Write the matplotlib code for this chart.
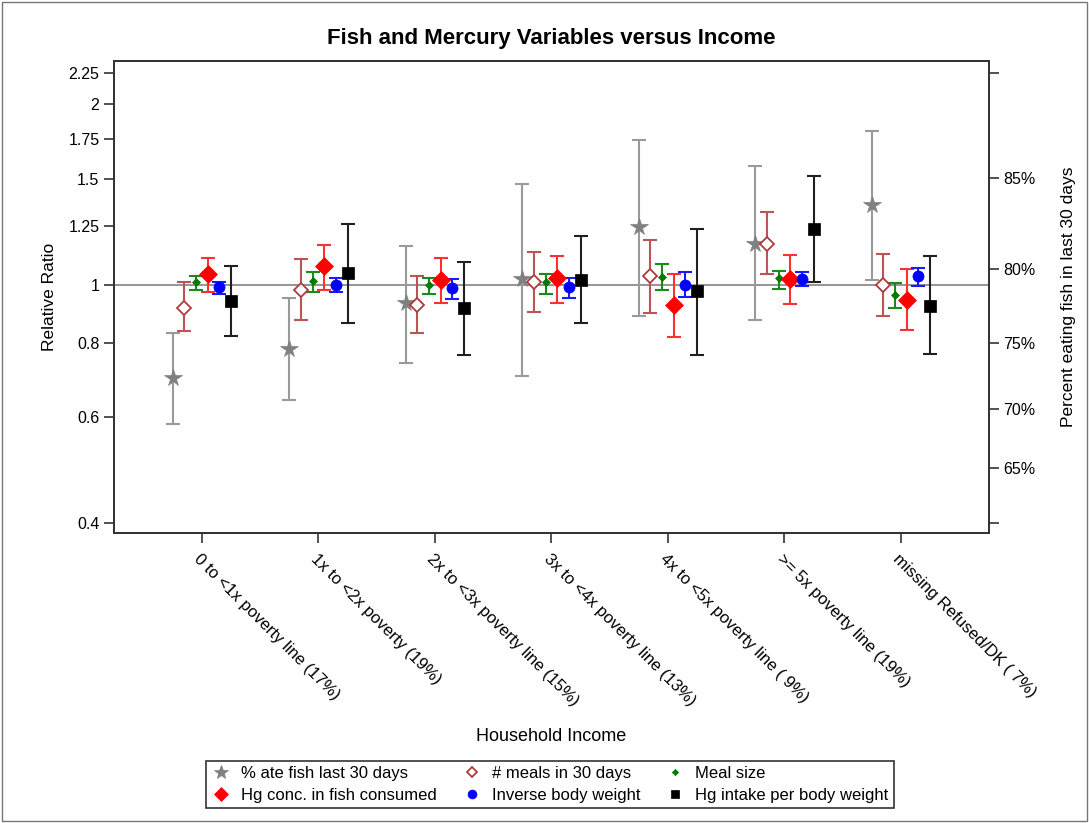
import numpy as np
import matplotlib
matplotlib.use("Agg")
import matplotlib.pyplot as plt
from matplotlib.patches import Rectangle

plt.rcParams['font.family'] = ['Liberation Sans', 'DejaVu Sans']

# Income groups (x axis)
groups = ["0 to <1x poverty line (17%)", "1x to <2x poverty (19%)",
          "2x to <3x poverty line (15%)", "3x to <4x poverty line (13%)",
          "4x to <5x poverty line ( 9%)", ">= 5x poverty line (19%)",
          "missing Refused/DK ( 7%)"]

# Relative ratios with lower / upper limits
ate_fish = [0.697, 0.782, 0.930, 1.023, 1.247, 1.170, 1.359]
ate_fish_lo = [0.585, 0.641, 0.740, 0.704, 0.887, 0.872, 1.017]
ate_fish_hi = [0.829, 0.950, 1.158, 1.473, 1.744, 1.575, 1.806]

meals = [0.915, 0.978, 0.926, 1.010, 1.034, 1.170, 1.000]
meals_lo = [0.836, 0.872, 0.831, 0.900, 0.897, 1.040, 0.885]
meals_hi = [1.010, 1.101, 1.032, 1.133, 1.185, 1.321, 1.126]

meal_size = [1.008, 1.014, 1.000, 1.008, 1.030, 1.026, 0.960]
meal_size_lo = [0.978, 0.972, 0.963, 0.966, 0.978, 0.983, 0.912]
meal_size_hi = [1.034, 1.050, 1.026, 1.043, 1.084, 1.055, 1.004]

hg_conc = [1.042, 1.073, 1.019, 1.026, 0.924, 1.023, 0.944]
hg_conc_lo = [0.972, 0.978, 0.932, 0.932, 0.816, 0.927, 0.839]
hg_conc_hi = [1.109, 1.166, 1.109, 1.115, 1.043, 1.122, 1.060]

inv_bw = [0.989, 0.997, 0.985, 0.989, 1.000, 1.023, 1.034]
inv_bw_lo = [0.963, 0.972, 0.946, 0.951, 0.954, 0.995, 0.996]
inv_bw_hi = [1.008, 1.027, 1.021, 1.027, 1.050, 1.050, 1.067]

hg_intake = [0.940, 1.046, 0.915, 1.017, 0.975, 1.240, 0.920]
hg_intake_lo = [0.820, 0.861, 0.764, 0.863, 0.764, 1.010, 0.765]
hg_intake_hi = [1.073, 1.264, 1.089, 1.204, 1.236, 1.515, 1.116]

# left axis ticks and right axis (percent eating fish) ticks
ratio_ticks = [0.4, 0.6, 0.8, 1, 1.25, 1.5, 1.75, 2, 2.25]
ratio_labels = ["0.4", "0.6", "0.8", "1", "1.25", "1.5", "1.75", "2", "2.25"]
pct_ticks = [0.65, 0.70, 0.75, 0.80, 0.85]
base_pct = 0.79  # percent eating fish that corresponds to ratio 1

series = [
    # label, values, lo, hi, marker, size, face, edge, bar colour
    ("% ate fish last 30 days", ate_fish, ate_fish_lo, ate_fish_hi, '*', 13, '#808080', '#808080', '#9a9a9a'),
    ("# meals in 30 days", meals, meals_lo, meals_hi, 'D', 7, 'white', '#b03a3a', '#bb5555'),
    ("Meal size", meal_size, meal_size_lo, meal_size_hi, 'D', 4, '#007a00', '#007a00', '#1a8a1a'),
    ("Hg conc. in fish consumed", hg_conc, hg_conc_lo, hg_conc_hi, 'D', 9, '#ff0000', '#ff0000', '#ff3030'),
    ("Inverse body weight", inv_bw, inv_bw_lo, inv_bw_hi, 'o', 8, '#0000ff', '#0000ff', '#1a1aff'),
    ("Hg intake per body weight", hg_intake, hg_intake_lo, hg_intake_hi, 's', 8, 'black', 'black', '#202020'),
]

fig = plt.figure(figsize=(10.89, 8.23), dpi=100)
ax = fig.add_axes([0.1047, 0.3524, 0.8033, 0.5735])

ax.axhline(1, color='#8c8c8c', lw=1.3, zorder=1)

x = np.arange(len(groups))
handles = []
for k, (lab, v, lo, hi, mk, ms, fc, ec, bc) in enumerate(series):
    v = np.array(v)
    xs = x + (k - 2.5) * 0.1
    yerr = [v - np.array(lo), np.array(hi) - v]
    ax.errorbar(xs, v, yerr=yerr, fmt='none', ecolor=bc, elinewidth=1.5,
                capsize=5, capthick=1.5, zorder=2)
    h, = ax.plot(xs, v, linestyle='none', marker=mk, markersize=ms,
                 markerfacecolor=fc, markeredgecolor=ec,
                 markeredgewidth=1.3 if fc == 'white' else 0.5, zorder=3, label=lab)
    handles.append(h)

ax.set_yscale('log')
ax.set_ylim(0.385, 2.36)
ax.set_xlim(-0.755, 6.755)
ax.set_yticks(ratio_ticks)
ax.set_yticklabels(ratio_labels)
ax.yaxis.set_minor_locator(matplotlib.ticker.NullLocator())
ax.set_xticks(x)
ax.set_xticklabels(groups, rotation=-45, ha='left', va='top',
                   rotation_mode='anchor', fontsize=12)
ax.tick_params(axis='both', direction='out', length=7, width=1.2,
               color='#333333', labelsize=11.5)
ax.tick_params(axis='x', pad=6, labelsize=12)
ax.set_xlabel("Household Income", fontsize=13, labelpad=14)
ax.set_ylabel("Relative Ratio", fontsize=12.5, labelpad=8)
ax.set_title("Fish and Mercury Variables versus Income", fontsize=16,
             fontweight='bold', pad=12)
for s in ax.spines.values():
    s.set_color('#333333')
    s.set_linewidth(1.3)

# right axis: percent eating fish, same log-odds scale as the ratio
base_odds = base_pct / (1 - base_pct)
ax2 = ax.twinx()
ax2.set_yscale('log')
ax2.set_ylim(ax.get_ylim())
right_pos = [p / (1 - p) / base_odds for p in pct_ticks] + [ratio_ticks[0], ratio_ticks[-1]]
right_lab = ["%d%%" % round(p * 100) for p in pct_ticks] + ["", ""]
ax2.set_yticks(right_pos)
ax2.set_yticklabels(right_lab)
ax2.yaxis.set_minor_locator(matplotlib.ticker.NullLocator())
ax2.tick_params(axis='y', direction='out', length=7, width=1.2,
                color='#333333', labelsize=11.5)
ax2.set_ylabel("Percent eating fish in last 30 days", fontsize=12.5, labelpad=18)
for s in ax2.spines.values():
    s.set_color('#333333')
    s.set_linewidth(1.3)

order = [0, 3, 1, 4, 2, 5]
leg = fig.legend([handles[i] for i in order], [series[i][0] for i in order],
                 ncol=3, loc='center', bbox_to_anchor=(0.505, 0.047),
                 fontsize=12, frameon=True, fancybox=False, framealpha=1,
                 edgecolor='#333333', handletextpad=0.6, columnspacing=1.5,
                 borderpad=0.3, labelspacing=0.45, handlelength=1.2,
                 numpoints=1, markerscale=0.8)
leg.get_frame().set_linewidth(1.2)

fig.patches.append(Rectangle((0.002, 0.002), 0.996, 0.996, transform=fig.transFigure,
                             fill=False, edgecolor='#777777', lw=1))

fig.savefig("out.png", dpi=100)
